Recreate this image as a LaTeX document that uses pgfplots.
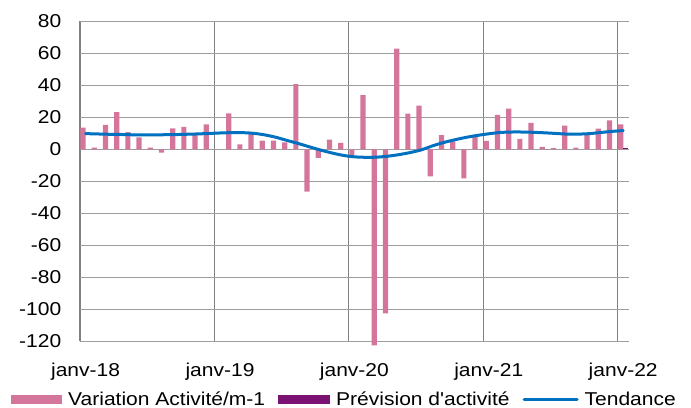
\documentclass[border=0pt]{standalone}
\usepackage{fontspec}
\setmainfont{Liberation Sans}[FakeStretch=1.13, Ligatures=TeXOff]
\usepackage{pgfplots}
\pgfplotsset{compat=1.18}
\definecolor{barpink}{HTML}{D4769B}
\definecolor{prevpurple}{HTML}{7B1273}
\definecolor{trendblue}{HTML}{0070C0}
\newcommand{\lblfont}{\fontsize{18.6bp}{21bp}\selectfont}
\begin{document}
\begin{tikzpicture}
\begin{axis}[name=ax, at={(0,0)}, anchor=south west,
  scale only axis, width=548.8bp, height=320bp,
  xmin=0, xmax=49, ymin=-120, ymax=80,
  clip=false,
  axis line style={draw=none},
  xtick={0,12,24,36,48},
  xticklabels={janv-18,janv-19,janv-20,janv-21,janv-22},
  ytick={-120,-100,-80,-60,-40,-20,20,40,60,80},
  extra y ticks={0}, extra y tick labels={0},
  extra y tick style={grid=major, major grid style={draw=black!75, line width=1bp}},
  grid=major,
  x grid style={draw=black!50, line width=1.2bp},
  y grid style={draw=black!38, line width=1bp},
  major tick length=0pt,
  tick label style={font=\lblfont},
  /pgf/number format/assume math mode=true,
  xticklabel style={anchor=north, inner sep=0pt, yshift=-21.4bp, xshift=5.6bp},
  yticklabel style={anchor=east, inner sep=0pt, xshift=-18.5bp},
  legend columns=3,
  legend style={at={(0,0)}, anchor=west, xshift=-69bp, yshift=-58.2bp,
    draw=none, fill=none, inner sep=0pt, font=\lblfont,
    nodes={inner sep=0pt, anchor=west},
    /tikz/every odd column/.append style={column sep=6bp},
    /tikz/every even column/.append style={column sep=13bp}},
]
\addplot[ybar, bar width=5.2bp, bar shift=0pt, fill=barpink, draw=none,
  legend image code/.code={\fill[barpink] (0bp,-4.5bp) rectangle (51bp,4.5bp);}]
coordinates {
(0.275,13.5) (1.275,1) (2.275,15.2) (3.275,23.3) (4.275,10.8) (5.275,7.5)
(6.275,1) (7.275,-2) (8.275,13.1) (9.275,14) (10.275,8.8) (11.275,15.6)
(12.275,0) (13.275,22.5) (14.275,3.1) (15.275,10.8) (16.275,5.4) (17.275,5.4)
(18.275,4.4) (19.275,40.8) (20.275,-26.5) (21.275,-5.4) (22.275,6) (23.275,4)
(24.275,-3.5) (25.275,33.8) (26.275,-122.5) (27.275,-102.5) (28.275,62.9) (29.275,22.3)
(30.275,27.3) (31.275,-16.9) (32.275,8.8) (33.275,5) (34.275,-18.1) (35.275,7.9)
(36.275,5.2) (37.275,21.5) (38.275,25.4) (39.275,6.5) (40.275,16.5) (41.275,1.5)
(42.275,0.8) (43.275,14.8) (44.275,1) (45.275,9) (46.275,12.9) (47.275,18.1)
(48.275,15.6)
};
\addlegendentry{Variation Activité/m-1}
\addplot[ybar, bar width=5.2bp, bar shift=0pt, fill=prevpurple, draw=none,
  legend image code/.code={\fill[prevpurple] (0bp,-4.5bp) rectangle (52bp,4.5bp);}]
coordinates {(48.725,0.8)};
\addlegendentry{Prévision d'activité}
\addplot[trendblue, line width=3bp, smooth, line cap=round,
  legend image code/.code={\draw[trendblue, line width=3bp] (0bp,0bp) -- (53bp,0bp);}]
coordinates {
(0.5,9.8) (1.5,9.6) (2.5,9.4) (3.5,9.3) (4.5,9.1) (5.5,9.0) (6.5,9.0) (7.5,9.1)
(8.5,9.2) (9.5,9.4) (10.5,9.6) (11.5,9.9) (12.5,10.2) (13.5,10.4) (14.5,10.4)
(15.5,10.0) (16.5,9.0) (17.5,7.5) (18.5,5.5) (19.5,3.6) (20.5,1.5) (21.5,-0.5)
(22.5,-2.3) (23.5,-3.8) (24.5,-4.7) (25.5,-5.0) (26.5,-4.9) (27.5,-4.3) (28.5,-3.3)
(29.5,-2.0) (30.5,-0.3) (31.5,2.2) (32.5,4.3) (33.5,6.0) (34.5,7.5) (35.5,8.7)
(36.5,9.7) (37.5,10.5) (38.5,10.8) (39.5,10.8) (40.5,10.6) (41.5,10.3) (42.5,9.9)
(43.5,9.5) (44.5,9.5) (45.5,9.8) (46.5,10.5) (47.5,11.2) (48.5,11.7)
};
\addlegendentry{Tendance}
\end{axis}
\pgfresetboundingbox
\path[use as bounding box] (-80bp,-66.7bp) rectangle (611bp,341.3bp);
\end{tikzpicture}
\end{document}
